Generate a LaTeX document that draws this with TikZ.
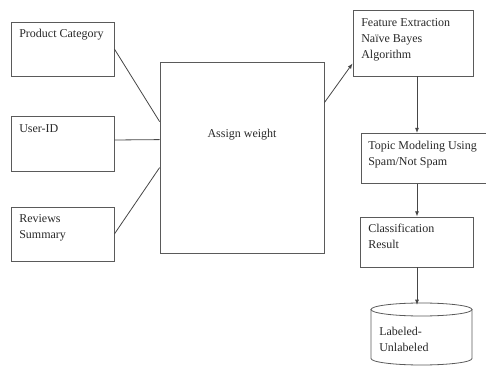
\documentclass[tikz,border=0pt]{standalone}
\usepackage{fontspec}
\setmainfont{Liberation Serif}
\usetikzlibrary{arrows.meta,calc}
\tikzset{
  box/.style={draw, color={rgb, 255:red, 90; green, 90; blue, 90}, line width=0.6pt, inner sep=0pt},
  txt/.style={anchor=north west, inner sep=0.75pt, align=left, font=\fontsize{9}{12}\selectfont, color={rgb, 255:red, 40; green, 40; blue, 40}},
  link/.style={draw, color={rgb, 255:red, 70; green, 70; blue, 70}, line width=0.6pt},
  flow/.style={link, -{Latex[length=4pt,width=3pt]}}
}
\begin{document}
\begin{tikzpicture}[x=0.75pt,y=0.75pt,yscale=-1,xscale=1]
        \useasboundingbox (0,0) rectangle (486,367);
        % input boxes
        \node [box, minimum width=77.25pt, minimum height=40.5pt] (pc) at (62.5,49) {};
        \node [box, minimum width=77.25pt, minimum height=41.25pt] (uid) at (62.5,143.5) {};
        \node [box, minimum width=77.25pt, minimum height=40.5pt] (rev) at (62.5,234) {};
        % weighting
        \node [box, minimum width=123pt, minimum height=143.25pt] (aw) at (242,157.5) {};
        % right column
        \node [box, minimum width=96pt, minimum height=37.5pt] (tm) at (425,158.5) {};
        \node [box, minimum width=90pt, minimum height=49.5pt] (fe) at (413,43) {};
        \node [box, minimum width=84.75pt, minimum height=37.5pt] (cr) at (416.5,242) {};
        %Shape: Can
        \coordinate (db) at (417,305);
        \draw [box] (421.5,309.5) ellipse [x radius=50.5, y radius=6.5];
        \draw [box] (371,309.5) -- (371,358.5) arc [start angle=180, end angle=0, x radius=50.5, y radius=6.5] -- (472,309.5);

        % Text Node
        \node [txt] (pct) at (18,28) {Product Category};
        \node [txt] (uidt) at (18,123) {User-ID};
        \node [txt] (revt) at (18,213) {Reviews\\Summary};
        \node [txt, anchor=center] (awt) at (242,135) {Assign weight};
        \node [txt] (fet) at (360,17) {Feature Extraction\\Naïve Bayes\\Algorithm};
        \node [txt] (tmt) at (367,140) {Topic Modeling Using\\Spam/Not Spam};
        \node [txt] (crt) at (367,223) {Classification\\Result};
        \node [txt] (dbt) at (378,326) {Labeled-\\Unlabeled};

        % connectors
        \draw [link] (pc.east) -- ($(aw.north west)+(0,60)$);
        \draw [link] (uid.east |- 0,140) -- ($(aw.north west)+(0,78)$);
        \draw [link] (rev.east) -- ($(aw.north west)+(0,106)$);
        \draw [flow] ($(aw.north east)+(0,41)$) -- ($(fe.south west)+(0,-13)$);
        \draw [flow] (fe.south -| db) -- (tm.north -| db);
        \draw [flow] (tm.south -| db) -- (cr.north -| db);
        \draw [flow] (cr.south -| db) -- (db);
\end{tikzpicture}
\end{document}
